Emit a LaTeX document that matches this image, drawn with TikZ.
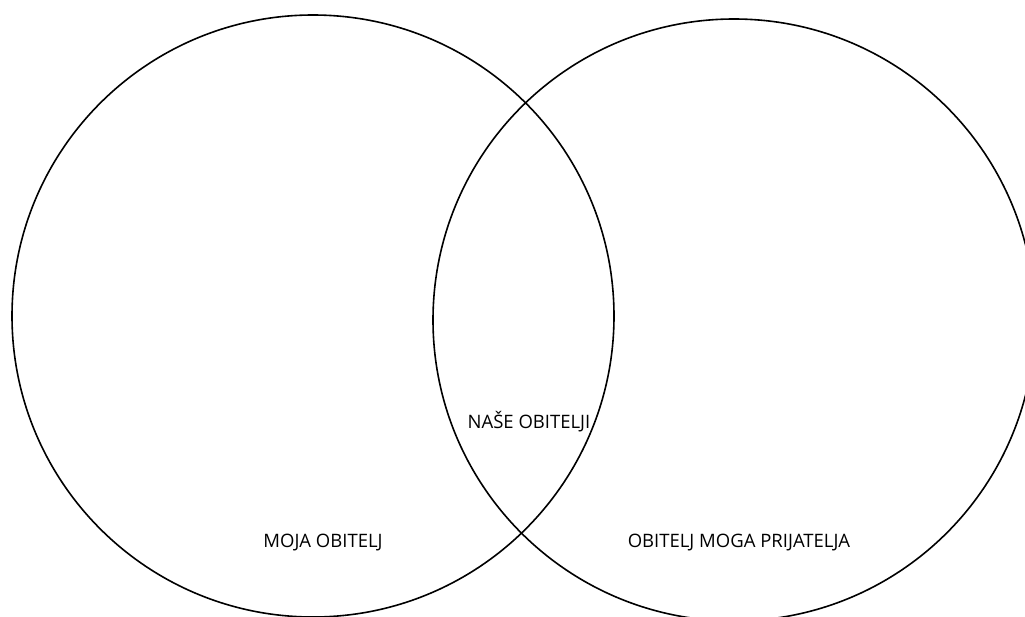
\documentclass[tikz,border=0pt]{standalone}
\usepackage{fontspec}
\setmainfont{Open Sans}
\begin{document}
\begin{tikzpicture}[x=1pt,y=-1pt,
  venn/.style={draw=black,line width=1.6pt},
  lbl/.style={font=\fontsize{18.5}{22}\selectfont,inner sep=0pt}]
\useasboundingbox (0,0) rectangle (1025,616);
\begin{scope}
\clip (0,0) rectangle (1025,616);
\draw[venn] (313,316) circle (301);
\draw[venn] (734,320) circle (301);
\end{scope}
\node[lbl] (nase) at (529,422) {NAŠE OBITELJI};
\node[lbl] (moja) at (323,543) {MOJA OBITELJ};
\node[lbl] (prij) at (739,543) {OBITELJ MOGA PRIJATELJA};
\end{tikzpicture}
\end{document}
